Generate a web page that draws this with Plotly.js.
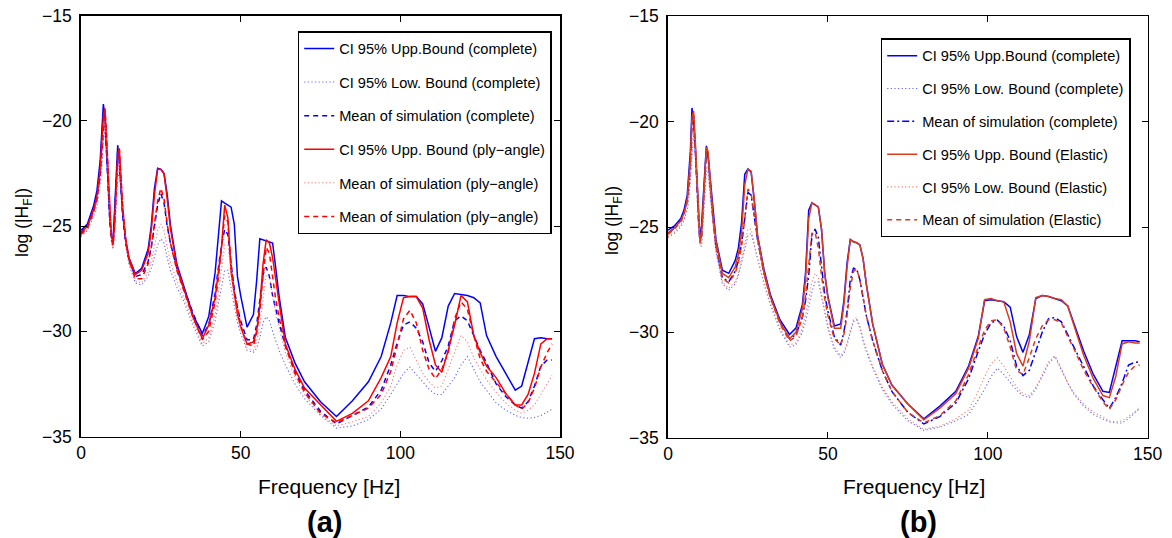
<!DOCTYPE html>
<html>
<head>
<meta charset="utf-8">
<script src="https://cdn.plot.ly/plotly-3.0.1.min.js"></script>
<style>html,body{margin:0;padding:0;background:#fff;}#chart{width:1172px;height:538px;}</style>
</head>
<body>
<div id="chart"></div>
<script>
// Frequency grid [Hz]
const freqHz = [0,2,4,5,6,6.5,7,7.5,8,8.5,
  9,9.5,10,10.5,11,11.5,12,12.5,13,14,
  15,17,19,21,22,23,24,25,26,27,
  28,30,32,35,38,40,42,43,44,45,
  46,47,48,49,50,52,54,55,56,57,
  58,59,60,61,62,64,67,70,75,80,
  85,90,94,97,99,101,103,105,107,109,
  111,113,115,117,119,121,123,125,127,130,
  133,136,138,140,142,144,146,147.5];

// ---- Panel (a) ----
const a_uppComplete = [-25.2,-24.9,-24.0,-23.3,-21.9,-20.7,-19.2,-19.8,-21.7,-23.3,
  -24.6,-25.5,-25.75,-24.3,-22.5,-21.15,-22.0,-23.3,-24.3,-25.7,
  -26.5,-27.25,-27.0,-26.1,-25.0,-23.2,-22.25,-22.3,-22.5,-23.5,
  -24.95,-26.8,-27.8,-29.2,-30.1,-29.3,-27.2,-25.6,-23.8,-23.9,
  -24.0,-24.1,-24.9,-27.4,-28.3,-29.8,-29.2,-27.6,-25.6,-25.65,
  -25.7,-25.75,-25.8,-27.0,-28.3,-30.3,-31.5,-32.4,-33.35,-34.05,
  -33.3,-32.4,-31.2,-29.6,-28.3,-28.3,-28.35,-28.35,-28.7,-29.8,
  -30.95,-30.3,-28.8,-28.2,-28.25,-28.3,-28.4,-28.65,-30.2,-31.2,
  -32.0,-32.8,-32.6,-31.5,-30.35,-30.3,-30.35,-30.35];
const a_lowComplete = [-25.5,-25.2,-24.5,-24.0,-23.0,-22.2,-21.0,-20.4,-21.3,-23.0,
  -24.6,-25.7,-26.1,-25.5,-24.0,-22.8,-22.3,-23.2,-24.4,-25.9,
  -26.8,-27.7,-27.8,-27.4,-27.0,-26.4,-25.9,-25.6,-25.8,-26.5,
  -27.1,-27.9,-28.5,-29.7,-30.7,-30.5,-29.5,-28.7,-27.8,-27.1,
  -27.1,-27.9,-28.8,-29.6,-30.1,-30.9,-31.0,-30.8,-30.3,-29.6,
  -29.3,-29.5,-30.0,-30.5,-30.9,-31.6,-32.5,-33.2,-34.0,-34.6,
  -34.5,-34.2,-33.7,-33.0,-32.5,-32.0,-31.7,-32.05,-32.45,-32.75,
  -33.0,-33.0,-32.6,-32.2,-31.6,-31.2,-31.8,-32.4,-32.8,-33.4,
  -33.75,-34.0,-34.1,-34.13,-34.1,-34.0,-33.85,-33.7];
const a_meanComplete = [-25.3,-25.0,-24.2,-23.6,-22.3,-21.2,-19.6,-19.9,-21.6,-23.4,
  -24.7,-25.6,-25.8,-24.6,-22.8,-21.4,-21.8,-23.2,-24.4,-25.8,
  -26.6,-27.4,-27.3,-26.7,-26.0,-25.0,-24.0,-23.45,-23.9,-25.0,
  -25.8,-27.0,-27.9,-29.1,-30.2,-29.7,-28.2,-27.0,-25.9,-25.15,
  -25.4,-26.8,-28.0,-28.9,-29.5,-30.4,-30.4,-29.7,-28.6,-27.3,
  -26.95,-27.4,-28.3,-29.0,-29.6,-30.7,-31.9,-32.8,-33.8,-34.4,
  -34.0,-33.6,-32.8,-31.6,-30.55,-29.7,-29.55,-29.85,-30.5,-31.5,
  -31.9,-31.4,-30.7,-29.5,-29.27,-29.5,-30.2,-30.9,-31.5,-32.5,
  -33.1,-33.5,-33.65,-33.35,-32.6,-31.65,-31.36,-31.36];
const a_uppPly = [-25.35,-25.0,-24.2,-23.6,-22.3,-21.0,-19.8,-19.4,-20.9,-22.8,
  -24.4,-25.4,-25.9,-25.0,-23.3,-21.6,-21.3,-22.6,-24.0,-25.6,
  -26.5,-27.3,-27.1,-26.3,-25.2,-23.5,-22.3,-22.3,-22.5,-23.7,
  -25.1,-26.9,-27.9,-29.3,-30.35,-29.7,-28.4,-27.3,-26.0,-24.0,
  -24.6,-27.2,-28.3,-29.2,-29.8,-30.6,-30.5,-30.0,-28.8,-26.8,
  -25.65,-25.8,-26.5,-27.6,-28.6,-30.6,-31.8,-32.7,-33.5,-34.28,
  -33.9,-33.3,-32.2,-31.2,-29.6,-28.4,-28.35,-28.35,-28.9,-30.4,
  -31.6,-31.95,-30.9,-29.7,-28.3,-28.6,-30.2,-31.0,-31.65,-32.2,
  -32.95,-33.5,-33.5,-33.0,-32.0,-30.6,-30.35,-30.35];
const a_meanPlyDotted = [-25.45,-25.15,-24.4,-23.8,-22.8,-21.9,-20.7,-20.0,-20.9,-22.9,
  -24.5,-25.6,-26.0,-25.4,-23.8,-22.4,-22.0,-22.9,-24.2,-25.8,
  -26.7,-27.6,-27.7,-27.2,-26.7,-25.9,-25.2,-24.9,-25.2,-26.0,
  -26.7,-27.6,-28.3,-29.5,-30.6,-30.3,-29.2,-28.2,-26.9,-25.9,
  -25.9,-27.2,-28.4,-29.3,-29.9,-30.8,-30.9,-30.5,-29.7,-28.5,
  -27.3,-27.4,-28.4,-29.2,-29.8,-31.0,-32.2,-33.0,-33.95,-34.5,
  -34.3,-34.05,-33.4,-32.6,-31.6,-30.9,-30.75,-31.4,-32.0,-32.4,
  -32.7,-32.6,-31.8,-31.0,-30.2,-30.5,-31.25,-31.8,-32.3,-32.9,
  -33.4,-33.75,-33.9,-33.75,-33.5,-33.0,-32.5,-32.1];
const a_meanPly = [-25.4,-25.1,-24.3,-23.7,-22.6,-21.6,-20.2,-19.45,-20.6,-22.8,
  -24.4,-25.5,-25.9,-25.0,-23.2,-21.8,-21.35,-22.6,-24.0,-25.7,
  -26.6,-27.5,-27.5,-26.8,-26.0,-24.9,-23.8,-23.2,-23.7,-24.9,
  -25.8,-27.1,-28.0,-29.3,-30.4,-30.0,-28.6,-27.5,-26.0,-24.5,
  -24.8,-26.8,-28.1,-29.0,-29.7,-30.6,-30.7,-30.1,-29.0,-27.4,
  -26.0,-26.3,-27.5,-28.5,-29.3,-30.7,-32.0,-32.9,-33.9,-34.35,
  -34.0,-33.65,-33.0,-31.9,-30.7,-29.4,-29.0,-29.6,-30.9,-31.8,
  -32.25,-31.8,-31.0,-29.4,-28.6,-28.95,-30.2,-31.3,-31.9,-32.45,
  -33.0,-33.5,-33.7,-33.4,-32.7,-31.7,-31.0,-30.6];

// ---- Panel (b) ----
const b_uppComplete = [-25.15,-24.95,-24.6,-24.2,-23.5,-22.6,-21.4,-19.35,-20.0,-21.1,
  -22.7,-24.3,-25.6,-24.9,-23.5,-21.9,-21.15,-21.55,-22.4,-24.2,
  -25.6,-27.05,-27.2,-26.6,-26.0,-24.8,-22.5,-22.25,-22.4,-23.8,
  -25.4,-27.0,-28.2,-29.4,-30.1,-29.8,-28.7,-27.2,-24.2,-23.85,
  -23.95,-24.05,-25.1,-27.2,-28.3,-29.7,-29.6,-28.5,-26.7,-25.6,
  -25.7,-25.75,-25.85,-26.5,-27.7,-29.6,-31.5,-32.5,-33.4,-34.1,
  -33.5,-32.8,-31.6,-30.2,-28.5,-28.45,-28.5,-28.55,-28.8,-30.2,
  -30.95,-30.1,-28.4,-28.25,-28.3,-28.4,-28.5,-28.75,-29.6,-30.9,
  -32.0,-32.8,-32.85,-31.6,-30.4,-30.4,-30.4,-30.45];
const b_lowComplete = [-25.5,-25.3,-25.0,-24.7,-24.2,-23.7,-22.8,-21.6,-20.6,-21.3,
  -23.0,-24.8,-25.9,-25.9,-24.8,-23.4,-22.3,-22.4,-23.2,-24.9,
  -26.2,-27.7,-28.0,-27.7,-27.3,-26.7,-26.0,-25.4,-25.3,-25.9,
  -26.6,-27.7,-28.7,-29.9,-30.7,-30.6,-30.0,-29.5,-28.8,-28.1,
  -27.6,-27.6,-28.3,-29.1,-29.8,-30.8,-31.2,-31.0,-30.6,-30.0,
  -29.5,-29.4,-29.8,-30.4,-30.9,-31.7,-32.7,-33.4,-34.2,-34.65,
  -34.5,-34.2,-33.9,-33.2,-32.7,-32.1,-31.7,-32.0,-32.4,-32.75,
  -33.0,-33.1,-32.7,-32.1,-31.5,-31.15,-31.8,-32.4,-32.95,-33.5,
  -33.9,-34.1,-34.25,-34.3,-34.3,-34.1,-33.8,-33.6];
const b_meanComplete = [-25.3,-25.05,-24.7,-24.35,-23.7,-23.0,-21.9,-20.0,-19.7,-21.0,
  -22.8,-24.6,-25.7,-25.4,-23.9,-22.3,-21.35,-21.6,-22.6,-24.5,
  -25.9,-27.4,-27.6,-27.1,-26.6,-25.8,-24.6,-23.35,-23.5,-24.6,
  -25.6,-27.2,-28.3,-29.5,-30.3,-30.1,-29.3,-28.5,-27.3,-25.4,
  -25.1,-25.5,-26.8,-28.2,-29.0,-30.2,-30.6,-30.0,-29.0,-27.5,
  -26.95,-27.0,-27.5,-28.4,-29.2,-30.4,-31.8,-32.8,-33.8,-34.35,
  -34.0,-33.35,-32.2,-30.9,-30.1,-29.55,-29.42,-29.7,-30.4,-31.6,
  -32.05,-31.8,-30.9,-30.0,-29.35,-29.3,-29.5,-30.1,-30.7,-31.6,
  -32.55,-33.2,-33.6,-33.1,-32.4,-31.55,-31.42,-31.4];
const b_uppElastic = [-25.3,-25.05,-24.7,-24.35,-23.7,-22.9,-21.8,-19.8,-19.5,-20.8,
  -22.6,-24.4,-25.6,-25.3,-23.8,-22.2,-21.2,-21.4,-22.4,-24.3,
  -25.7,-27.2,-27.4,-26.9,-26.3,-25.3,-23.0,-22.25,-22.35,-23.7,
  -25.4,-27.1,-28.3,-29.5,-30.3,-30.0,-28.9,-27.5,-24.6,-23.85,
  -23.95,-24.05,-25.1,-27.2,-28.35,-29.8,-29.8,-28.7,-26.9,-25.6,
  -25.7,-25.75,-25.85,-26.5,-27.7,-29.6,-31.5,-32.5,-33.4,-34.15,
  -33.6,-32.9,-31.7,-30.3,-28.45,-28.4,-28.5,-28.55,-29.5,-31.0,
  -31.6,-30.4,-28.35,-28.25,-28.3,-28.4,-28.45,-28.75,-29.7,-31.1,
  -32.2,-33.0,-33.1,-32.1,-30.55,-30.45,-30.5,-30.5];
const b_lowElastic = [-25.45,-25.25,-24.9,-24.6,-24.0,-23.5,-22.5,-21.2,-20.4,-21.1,
  -22.9,-24.7,-25.85,-25.8,-24.6,-23.2,-22.1,-22.2,-23.1,-24.8,
  -26.1,-27.6,-27.9,-27.6,-27.2,-26.5,-25.7,-25.1,-25.1,-25.8,
  -26.5,-27.6,-28.6,-29.8,-30.6,-30.5,-29.8,-29.2,-28.4,-27.6,
  -27.2,-27.4,-28.2,-29.0,-29.7,-30.7,-31.1,-30.9,-30.5,-29.9,
  -29.4,-29.3,-29.7,-30.3,-30.8,-31.6,-32.6,-33.3,-34.1,-34.6,
  -34.45,-34.1,-33.7,-32.8,-32.1,-31.5,-31.2,-31.6,-32.1,-32.6,
  -32.9,-33.0,-32.6,-32.0,-31.4,-31.1,-31.7,-32.4,-32.9,-33.4,
  -33.8,-34.0,-34.2,-34.25,-34.2,-34.0,-33.75,-33.6];
const b_meanElastic = [-25.35,-25.1,-24.75,-24.4,-23.8,-23.1,-22.0,-20.1,-19.7,-21.0,
  -22.8,-24.6,-25.75,-25.5,-24.0,-22.4,-21.4,-21.6,-22.6,-24.5,
  -25.9,-27.45,-27.65,-27.2,-26.7,-25.9,-24.6,-23.2,-23.4,-24.5,
  -25.6,-27.2,-28.35,-29.6,-30.4,-30.2,-29.3,-28.3,-26.9,-25.3,
  -25.25,-26.0,-27.3,-28.4,-29.2,-30.3,-30.6,-30.1,-29.2,-27.9,
  -27.1,-27.0,-27.5,-28.4,-29.2,-30.4,-31.8,-32.8,-33.8,-34.3,
  -33.95,-33.25,-32.0,-30.7,-29.9,-29.45,-29.4,-29.8,-30.7,-31.8,
  -32.0,-31.2,-30.3,-29.7,-29.4,-29.4,-29.55,-30.2,-30.8,-31.8,
  -32.6,-33.3,-33.65,-33.2,-32.5,-31.9,-31.6,-31.55];

// Legend labels
const labelsA = ['CI 95% Upp.Bound (complete)','CI 95% Low. Bound (complete)','Mean of simulation (complete)',
  'CI 95% Upp. Bound (ply\u2212angle)','Mean of simulation (ply\u2212angle)','Mean of simulation (ply\u2212angle)'];
const labelsB = ['CI 95% Upp.Bound (complete)','CI 95% Low. Bound (complete)','Mean of simulation (complete)',
  'CI 95% Upp. Bound (Elastic)','CI 95% Low. Bound (Elastic)','Mean of simulation (Elastic)'];
const tickX = [0,50,100,150];
const tickY = [-35,-30,-25,-20,-15];

const BLUE = '#0000ff', BLUE_LT = 'rgb(100,100,255)';
const RED = '#ff0000', RED_LT = 'rgb(255,120,120)';
const ORG = '#dc3a1c', ORG_LT = 'rgb(235,130,110)';
const SOLID = 'solid', DOT = '1.2px,2.4px', DASH = '5px,4px', DASHDOT = '7px,3px,2px,3px';

function tr(y, name, color, dash, width, xa, ya, leg, grp) {
  return {x: freqHz, y: y, name: name, type: 'scatter', mode: 'lines',
    line: {color: color, dash: dash, width: width},
    xaxis: xa, yaxis: ya, legend: leg, legendgroup: grp, showlegend: true, hoverinfo: 'skip'};
}

const data = [
  tr(a_uppComplete, labelsA[0], BLUE, SOLID, 1.5, 'x', 'y', 'legend', 'a1'),
  tr(a_lowComplete, labelsA[1], BLUE_LT, DOT, 1.1, 'x', 'y', 'legend', 'a2'),
  tr(a_meanComplete, labelsA[2], BLUE, DASH, 1.5, 'x', 'y', 'legend', 'a3'),
  tr(a_uppPly, labelsA[3], RED, SOLID, 1.5, 'x', 'y', 'legend', 'a4'),
  tr(a_meanPlyDotted, labelsA[4], RED_LT, DOT, 1.1, 'x', 'y', 'legend', 'a5'),
  tr(a_meanPly, labelsA[5], RED, DASH, 1.5, 'x', 'y', 'legend', 'a6'),
  tr(b_uppComplete, labelsB[0], BLUE, SOLID, 1.5, 'x2', 'y2', 'legend2', 'b1'),
  tr(b_lowComplete, labelsB[1], BLUE_LT, DOT, 1.1, 'x2', 'y2', 'legend2', 'b2'),
  tr(b_meanComplete, labelsB[2], BLUE, DASHDOT, 1.5, 'x2', 'y2', 'legend2', 'b3'),
  tr(b_uppElastic, labelsB[3], ORG, SOLID, 1.5, 'x2', 'y2', 'legend2', 'b4'),
  tr(b_lowElastic, labelsB[4], ORG_LT, DOT, 1.1, 'x2', 'y2', 'legend2', 'b5'),
  tr(b_meanElastic, labelsB[5], ORG, DASH, 1.5, 'x2', 'y2', 'legend2', 'b6')
];

const W = 1172, H = 538;
const FONT = 'Liberation Sans, Arial, Helvetica, sans-serif';
function xax(d, anchor) {
  return {domain: d, anchor: anchor, range: [0, 150], tickvals: tickX, ticks: 'inside', ticklen: 6,
    tickwidth: 1, tickcolor: '#000', showline: true, linecolor: '#000', linewidth: 1.7, mirror: 'ticks',
    showgrid: false, zeroline: false, tickfont: {size: 17.5, color: '#000', family: FONT}, fixedrange: true};
}
function yax(d, anchor) {
  return {domain: d, anchor: anchor, range: [-35, -15], tickvals: tickY, ticks: 'inside', ticklen: 6,
    tickwidth: 1, tickcolor: '#000', showline: true, linecolor: '#000', linewidth: 1.7, mirror: 'ticks',
    showgrid: false, zeroline: false, tickfont: {size: 17.5, color: '#000', family: FONT}, fixedrange: true,
    ticklabelstandoff: 4};
}
function leg(xr, yt, gap) {
  return {x: xr / W, xanchor: 'right', y: 1 - yt / H, yanchor: 'top', bgcolor: '#fff', bordercolor: '#000',
    borderwidth: 1.5, font: {size: 14.6, color: '#000', family: FONT}, traceorder: 'grouped', tracegroupgap: gap,
    itemwidth: 30};
}
const layout = {
  width: W, height: H, margin: {l: 0, r: 0, t: 0, b: 0},
  paper_bgcolor: '#fff', plot_bgcolor: '#fff',
  font: {family: FONT, color: '#000', size: 16},
  showlegend: true,
  xaxis: xax([81 / W, 560 / W], 'y'),
  yaxis: yax([1 - 436.5 / H, 1 - 15.8 / H], 'x'),
  xaxis2: xax([668 / W, 1147.7 / W], 'y2'),
  yaxis2: yax([1 - 437.7 / H, 1 - 16.3 / H], 'x2'),
  legend: leg(551.7, 31, 11.6),
  legend2: leg(1130.7, 38.3, 10.8),
  annotations: [
    {text: 'Frequency [Hz]', xref: 'paper', yref: 'paper', x: 329 / W, y: 1 - 486 / H, xanchor: 'center', yanchor: 'middle', showarrow: false, font: {size: 21, family: FONT, color: '#000'}},
    {text: 'Frequency [Hz]', xref: 'paper', yref: 'paper', x: 914 / W, y: 1 - 486.5 / H, xanchor: 'center', yanchor: 'middle', showarrow: false, font: {size: 21, family: FONT, color: '#000'}},
    {text: 'log (|H<sub>F</sub>|)', xref: 'paper', yref: 'paper', x: 23 / W, y: 1 - 223 / H, xanchor: 'center', yanchor: 'middle', textangle: -90, showarrow: false, font: {size: 17.5, family: FONT, color: '#000'}},
    {text: 'log (|H<sub>F</sub>|)', xref: 'paper', yref: 'paper', x: 614 / W, y: 1 - 221 / H, xanchor: 'center', yanchor: 'middle', textangle: -90, showarrow: false, font: {size: 17.5, family: FONT, color: '#000'}},
    {text: '<b>(a)</b>', xref: 'paper', yref: 'paper', x: 324 / W, y: 1 - 522 / H, xanchor: 'center', yanchor: 'middle', showarrow: false, font: {size: 29, family: FONT, color: '#000'}},
    {text: '<b>(b)</b>', xref: 'paper', yref: 'paper', x: 918 / W, y: 1 - 522 / H, xanchor: 'center', yanchor: 'middle', showarrow: false, font: {size: 29, family: FONT, color: '#000'}}
  ]
};
Plotly.newPlot('chart', data, layout, {staticPlot: true, displayModeBar: false});
</script>
</body>
</html>
